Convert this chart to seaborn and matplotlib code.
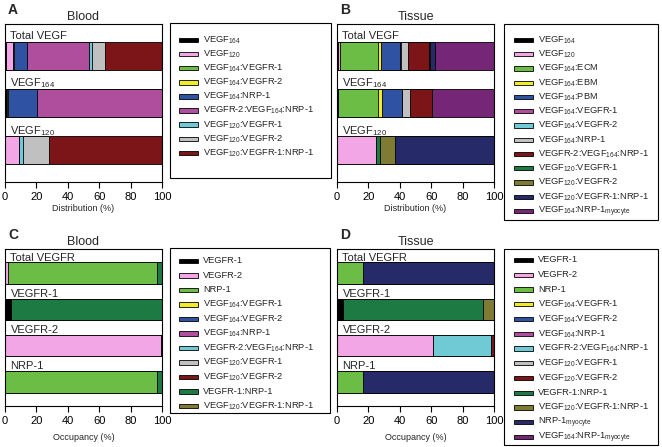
import numpy as np
import pandas as pd
import matplotlib
matplotlib.use("Agg")
import matplotlib.pyplot as plt
from matplotlib.patches import Rectangle
import seaborn as sns

W, H = 662, 447

# shared colour order (legend position -> colour)
palette = ["#000000", "#f2a6e6", "#6cbd45", "#f0ec2c", "#2f52a3", "#b04e9e",
           "#6fcad6", "#c0c0c0", "#7c1517", "#1d7a42", "#807b34", "#262a69",
           "#762676"]

# ---- A: VEGF distribution, blood
a_rows = ["Total VEGF", "VEGF$_{164}$", "VEGF$_{120}$"]
a_species = ["VEGF$_{164}$", "VEGF$_{120}$", "VEGF$_{164}$:VEGFR-1", "VEGF$_{164}$:VEGFR-2",
             "VEGF$_{164}$:NRP-1", "VEGFR-2:VEGF$_{164}$:NRP-1", "VEGF$_{120}$:VEGFR-1",
             "VEGF$_{120}$:VEGFR-2", "VEGF$_{120}$:VEGFR-1:NRP-1"]
a_total = [0.4, 4.7, 0.2, 0.2, 8.8, 39.3, 1.5, 8.3, 36.6]
a_vegf164 = [0.8, 0.0, 0.3, 1.0, 18.0, 79.9, 0.0, 0.0, 0.0]
a_vegf120 = [0.0, 9.0, 0.0, 0.0, 0.0, 0.0, 2.5, 16.5, 72.0]

# ---- B: VEGF distribution, tissue
b_rows = ["Total VEGF", "VEGF$_{164}$", "VEGF$_{120}$"]
b_species = ["VEGF$_{164}$", "VEGF$_{120}$", "VEGF$_{164}$:ECM", "VEGF$_{164}$:EBM",
             "VEGF$_{164}$:PBM", "VEGF$_{164}$:VEGFR-1", "VEGF$_{164}$:VEGFR-2",
             "VEGF$_{164}$:NRP-1", "VEGFR-2:VEGF$_{164}$:NRP-1", "VEGF$_{120}$:VEGFR-1",
             "VEGF$_{120}$:VEGFR-2", "VEGF$_{120}$:VEGFR-1:NRP-1",
             "VEGF$_{164}$:NRP-1$_{\\mathrm{myocyte}}$"]
b_total = [0.8, 1.2, 24.0, 2.1, 12.0, 0.2, 0.2, 4.5, 13.6, 0.3, 0.3, 3.5, 37.3]
b_vegf164 = [0.8, 0.0, 25.6, 2.1, 12.8, 0.2, 0.2, 5.1, 13.6, 0.0, 0.0, 0.0, 39.6]
b_vegf120 = [0.0, 25.0, 0.0, 0.0, 0.0, 0.0, 0.0, 0.0, 0.0, 2.2, 9.8, 63.0, 0.0]

# ---- C: receptor occupancy, blood
c_rows = ["Total VEGFR", "VEGFR-1", "VEGFR-2", "NRP-1"]
c_species = ["VEGFR-1", "VEGFR-2", "NRP-1", "VEGF$_{164}$:VEGFR-1", "VEGF$_{164}$:VEGFR-2",
             "VEGF$_{164}$:NRP-1", "VEGFR-2:VEGF$_{164}$:NRP-1", "VEGF$_{120}$:VEGFR-1",
             "VEGF$_{120}$:VEGFR-2", "VEGFR-1:NRP-1", "VEGF$_{120}$:VEGFR-1:NRP-1"]
c_total = [0.1, 1.6, 94.9, 0.0, 0.0, 0.0, 0.0, 0.0, 0.0, 3.4, 0.0]
c_vegfr1 = [3.8, 0.0, 0.0, 0.0, 0.0, 0.0, 0.0, 0.0, 0.0, 96.2, 0.0]
c_vegfr2 = [0.0, 99.6, 0.0, 0.0, 0.0, 0.0, 0.4, 0.0, 0.0, 0.0, 0.0]
c_nrp1 = [0.0, 0.0, 96.6, 0.0, 0.0, 0.0, 0.0, 0.0, 0.0, 3.4, 0.0]

# ---- D: receptor occupancy, tissue
d_rows = ["Total VEGFR", "VEGFR-1", "VEGFR-2", "NRP-1"]
d_species = c_species + ["NRP-1$_{\\mathrm{myocyte}}$", "VEGF$_{164}$:NRP-1$_{\\mathrm{myocyte}}$"]
d_total = [0.1, 0.2, 16.0, 0.0, 0.0, 0.0, 0.1, 0.0, 0.0, 0.1, 0.0, 83.5, 0.0]
d_vegfr1 = [3.8, 0.0, 0.0, 0.0, 0.0, 0.0, 0.0, 0.0, 0.0, 89.0, 7.2, 0.0, 0.0]
d_vegfr2 = [0.0, 61.3, 0.0, 0.0, 0.0, 0.0, 37.0, 0.0, 1.7, 0.0, 0.0, 0.0, 0.0]
d_nrp1 = [0.0, 0.0, 16.4, 0.0, 0.0, 0.0, 0.0, 0.0, 0.0, 0.0, 0.0, 83.6, 0.0]

sns.set_theme(style="white")
plt.rcParams["font.family"] = ["Liberation Sans", "DejaVu Sans"]
plt.rcParams["mathtext.fontset"] = "custom"
plt.rcParams["mathtext.rm"] = "Liberation Sans"
plt.rcParams["mathtext.it"] = "Liberation Sans:italic"
plt.rcParams["mathtext.bf"] = "Liberation Sans:bold"


def fx(px):
    return px / W


def fy(py):
    return 1 - py / H


def stacked(ax, rows, table, title, xlabel, labelpad):
    cum = np.cumsum(np.array(table), axis=1)
    n = len(rows)
    # draw cumulative bars from longest to shortest so each segment shows
    for k in reversed(range(cum.shape[1])):
        df = pd.DataFrame({"row": rows, "x": cum[:, k]})
        sns.barplot(data=df, x="x", y="row", orient="h", color=palette[k],
                    saturation=1, width=0.6, edgecolor="black", linewidth=0.6,
                    errorbar=None, ax=ax)
    for i, r in enumerate(rows):
        ax.text(3.5, i - 0.35, r, fontsize=8, va="baseline", ha="left")
    ax.set_xlim(0, 100)
    ax.set_ylim(n - 1 + 0.67, -0.67)
    ax.set_yticks([])
    ax.set_ylabel("")
    ax.set_xticks(range(0, 101, 20))
    ax.tick_params(axis="x", direction="out", length=4, width=0.8, pad=3,
                   labelsize=8, bottom=True, colors="black")
    for s in ax.spines.values():
        s.set_visible(True)
        s.set_color("black")
        s.set_linewidth(0.8)
    ax.set_title(title, fontsize=9, pad=3)
    ax.set_xlabel(xlabel, fontsize=6.5, labelpad=labelpad)


def legend_box(fig, species, box, sx, tx, y0, dy):
    x0, y0b, x1, y1b = box
    fig.add_artist(Rectangle((fx(x0), fy(y1b)), (x1 - x0) / W, (y1b - y0b) / H,
                             transform=fig.transFigure, facecolor="none",
                             edgecolor="black", linewidth=0.8))
    for i, lab in enumerate(species):
        yc = y0 + i * dy
        fig.add_artist(Rectangle((fx(sx), fy(yc + 2.2)), 19 / W, 4.4 / H,
                                 transform=fig.transFigure, facecolor=palette[i],
                                 edgecolor="black", linewidth=0.6))
        fig.text(fx(tx), fy(yc + 2.4), lab, fontsize=6.7, va="baseline", ha="left")


fig = plt.figure(figsize=(W / 100, H / 100), dpi=100)

axA = fig.add_axes([fx(5), fy(182), 157 / W, 158 / H])
axB = fig.add_axes([fx(337), fy(182), 157 / W, 158 / H])
axC = fig.add_axes([fx(5), fy(406), 157 / W, 157 / H])
axD = fig.add_axes([fx(337), fy(406), 157 / W, 157 / H])

stacked(axA, a_rows, [a_total, a_vegf164, a_vegf120], "Blood", "Distribution (%)", 2)
stacked(axB, b_rows, [b_total, b_vegf164, b_vegf120], "Tissue", "Distribution (%)", 2)
stacked(axC, c_rows, [c_total, c_vegfr1, c_vegfr2, c_nrp1], "Blood", "Occupancy (%)", 5)
stacked(axD, d_rows, [d_total, d_vegfr1, d_vegfr2, d_nrp1], "Tissue", "Occupancy (%)", 5)

legend_box(fig, a_species, (170, 23, 331, 178), 179, 203, 40, 14.1)
legend_box(fig, b_species, (504, 24, 658, 220), 514, 538, 40, 14.25)
legend_box(fig, c_species, (170, 248, 330, 413), 179, 203, 261, 14.5)
legend_box(fig, d_species, (504, 249, 658, 445), 514, 538, 260, 14.75)

for letter, x, y in [("A", 8, 10), ("B", 340, 10), ("C", 8, 235), ("D", 340, 235)]:
    fig.text(fx(x), fy(y), letter, fontsize=10, fontweight="bold", va="center", ha="left")

fig.savefig("out.png", dpi=100)
